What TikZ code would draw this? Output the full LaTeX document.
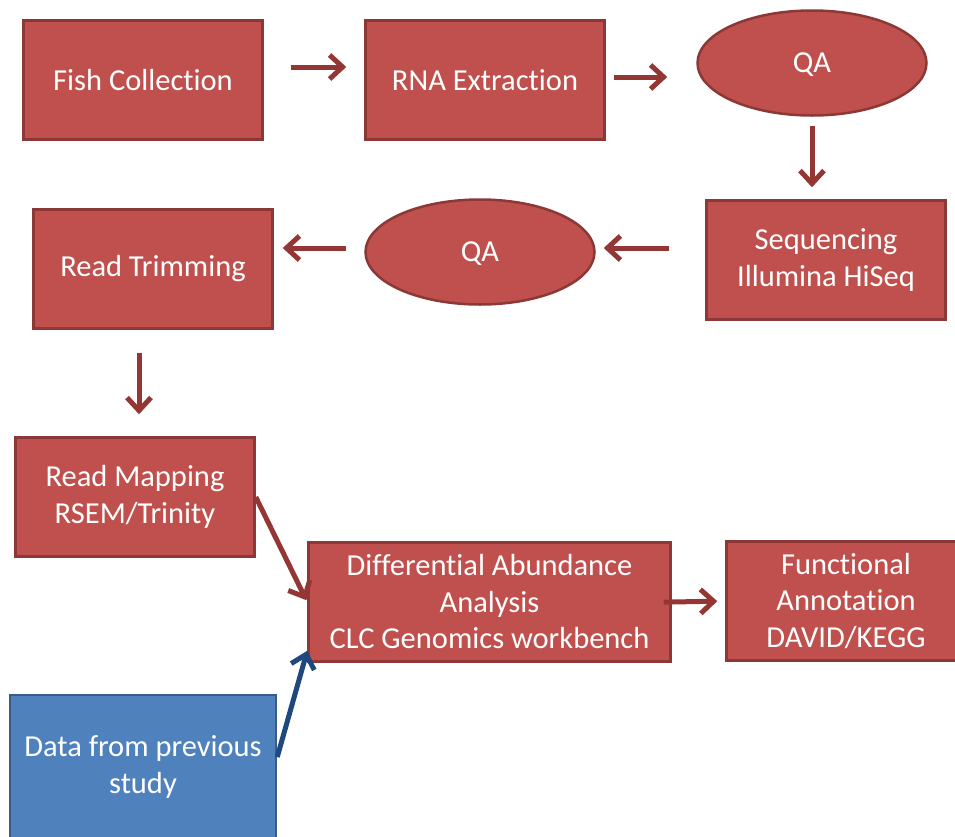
\documentclass[tikz,border=0pt]{standalone}
\usepackage{fontspec}
\setmainfont[Ligatures=NoCommon]{Carlito}
\usetikzlibrary{arrows.meta,shapes.geometric}
\definecolor{boxred}{HTML}{C0504D}
\definecolor{edgered}{HTML}{8C3836}
\definecolor{arrowred}{HTML}{943634}
\definecolor{boxblue}{HTML}{4F81BD}
\definecolor{edgeblue}{HTML}{385D8A}
\definecolor{arrowblue}{HTML}{1F497D}
\tikzset{
  stage/.style={rectangle, draw=edgered, fill=boxred, line width=2.5pt, text=white,
    align=center, inner sep=0pt, minimum width=239pt, minimum height=119pt,
    font=\fontsize{30.5}{36.5}\selectfont},
  check/.style={stage, ellipse, minimum width=229pt, minimum height=105pt, text depth=0pt},
  extern/.style={stage, draw=edgeblue, fill=boxblue},
  flow/.style={draw=arrowred, line width=5pt, -{Straight Barb[length=13pt,width=24pt]}},
  bflow/.style={flow, draw=arrowblue},
}

\begin{document}
\begin{tikzpicture}[x=1pt,y=-1pt]
\useasboundingbox (0,0) rectangle (955,836);
\clip (0,0) rectangle (955,836);
\node[stage] (fish) at (143,80) {Fish Collection};
\node[stage] (rna) at (485,80) {RNA Extraction};
\node[check] (qa1) at (812,63) {QA};
\node[stage] (seq) at (826,260) {Sequencing\\Illumina HiSeq};
\node[check] (qa2) at (480,252) {QA};
\node[stage] (trim) at (153,269) {Read Trimming};
\node[stage] (map) at (135,497) {Read Mapping\\RSEM/Trinity};
\node[stage, minimum width=362pt] (diff) at (489.5,602) {Differential Abundance\\Analysis\\CLC Genomics workbench};
\node[stage] (func) at (846,601) {Functional\\Annotation\\DAVID/KEGG};
\node[extern, minimum width=266pt, minimum height=144pt] (data) at (143,767) {Data from previous\\study};

\draw[flow, shorten <=27pt, shorten >=18pt] ([yshift=13pt]fish.east) -- ([yshift=13pt]rna.west);
\draw[flow, shorten <=8pt, shorten >=29pt] ([yshift=3pt]rna.east) -- ([yshift=3pt]rna.east -| qa1.west);
\draw[flow, shorten <=9pt, shorten >=12pt] (qa1.south) -- (qa1.south |- seq.north);
\draw[flow, shorten <=36pt, shorten >=8pt] ([yshift=12pt]seq.west) -- ([yshift=12pt]seq.west -| qa2.east);
\draw[flow, shorten <=18pt, shorten >=9pt] ([yshift=4pt]qa2.west) -- ([yshift=4pt]qa2.west -| trim.east);
\draw[flow, shorten <=23pt, shorten >=22pt] ([xshift=-14pt]trim.south) -- ([xshift=-14pt]trim.south |- map.north);
\draw[flow, shorten >=2pt] (map.east) -- (diff.west);
\draw[bflow] ([yshift=10pt]data.east) -- ([yshift=12pt]diff.south west);
\draw[flow, shorten <=-8pt, shorten >=8pt] (diff.east) -- (func.west);
\end{tikzpicture}
\end{document}
